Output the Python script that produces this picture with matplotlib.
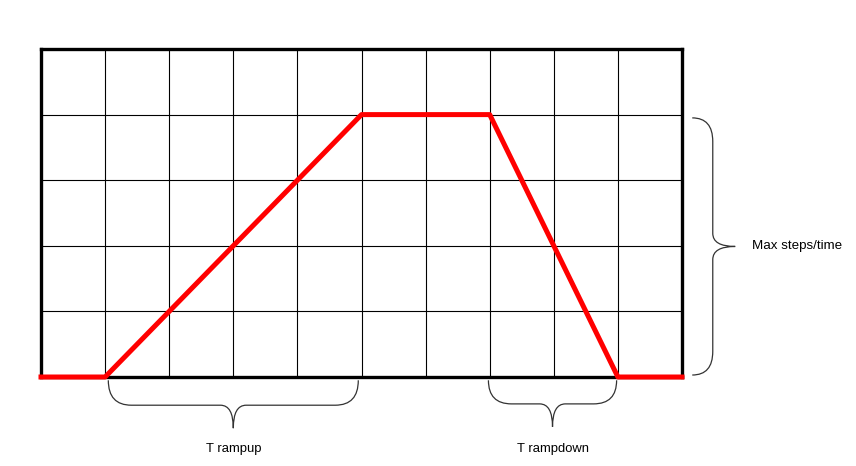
import matplotlib
matplotlib.use("Agg")
import matplotlib.pyplot as plt
from matplotlib.path import Path
from matplotlib.patches import PathPatch

# motion profile (time units vs speed units)
t = [0, 1, 5, 7, 9, 10]
speed = [0, 0, 4, 4, 0, 0]

n_cols = 10
n_rows = 5

# brace spans and labels
rampup_span = (1.05, 4.95)
rampdown_span = (6.98, 8.98)
max_span = (0.03, 3.95)
rampup_label = "T rampup"
rampdown_label = "T rampdown"
max_label = "Max steps/time"


def hbrace(ax, x0, x1, y0, ymid, ytip, w=0.36, w2=0.2):
    xc = (x0 + x1) / 2
    verts = [
        (x0, y0), (x0, ymid), (x0 + w, ymid),
        (xc - w2, ymid),
        (xc, ymid), (xc, ytip),
        (xc, ymid), (xc + w2, ymid),
        (x1 - w, ymid),
        (x1, ymid), (x1, y0),
    ]
    codes = [Path.MOVETO, Path.CURVE3, Path.CURVE3, Path.LINETO,
             Path.CURVE3, Path.CURVE3,
             Path.CURVE3, Path.CURVE3,
             Path.LINETO, Path.CURVE3, Path.CURVE3]
    ax.add_patch(PathPatch(Path(verts, codes), fill=False, ec="#333333",
                           lw=0.9, clip_on=False))


def vbrace(ax, y0, y1, x0, xmid, xtip, h=0.36, h2=0.2):
    yc = (y0 + y1) / 2
    verts = [
        (x0, y1), (xmid, y1), (xmid, y1 - h),
        (xmid, yc + h2),
        (xmid, yc), (xtip, yc),
        (xmid, yc), (xmid, yc - h2),
        (xmid, y0 + h),
        (xmid, y0), (x0, y0),
    ]
    codes = [Path.MOVETO, Path.CURVE3, Path.CURVE3, Path.LINETO,
             Path.CURVE3, Path.CURVE3,
             Path.CURVE3, Path.CURVE3,
             Path.LINETO, Path.CURVE3, Path.CURVE3]
    ax.add_patch(PathPatch(Path(verts, codes), fill=False, ec="#333333",
                           lw=0.9, clip_on=False))


plt.rcParams['font.family'] = ['Liberation Sans', 'DejaVu Sans']

fig = plt.figure(figsize=(8.56, 4.66), dpi=100)
ax = fig.add_axes([41 / 856, 89 / 466, 641 / 856, 328 / 466])

ax.set_xlim(0, n_cols)
ax.set_ylim(0, n_rows)
ax.set_xticks(range(n_cols + 1))
ax.set_yticks(range(n_rows + 1))
ax.tick_params(length=0, labelbottom=False, labelleft=False)
ax.grid(True, color="black", linewidth=0.8)
for s in ax.spines.values():
    s.set_linewidth(2.4)
    s.set_color("black")

ax.plot(t, speed, color="red", linewidth=3.6, clip_on=False, zorder=3)

hbrace(ax, rampup_span[0], rampup_span[1], -0.05, -0.43, -0.78)
hbrace(ax, rampdown_span[0], rampdown_span[1], -0.05, -0.41, -0.76)
vbrace(ax, max_span[0], max_span[1], 10.16, 10.48, 10.83)

ax.text(sum(rampup_span) / 2, -1.1, rampup_label, ha="center", va="center", fontsize=9.4)
ax.text(sum(rampdown_span) / 2, -1.1, rampdown_label, ha="center", va="center", fontsize=9.4)
ax.text(11.09, sum(max_span) / 2, max_label, ha="left", va="center", fontsize=9.6)

fig.savefig("out.png", dpi=100)
